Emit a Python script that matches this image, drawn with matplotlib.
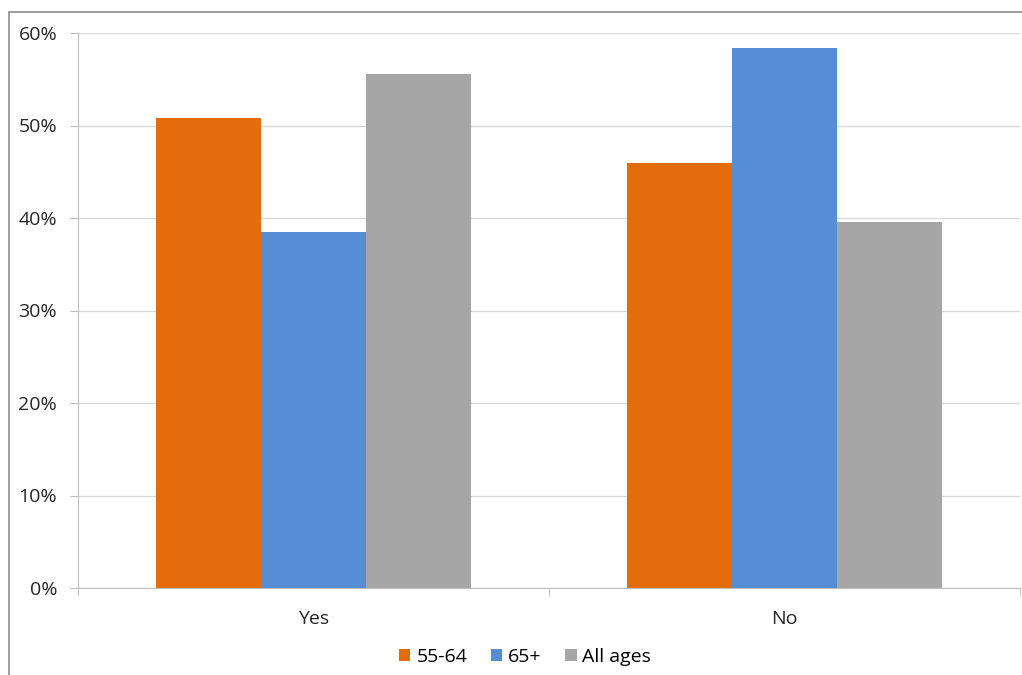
import numpy as np
import matplotlib.pyplot as plt
from matplotlib.patches import Rectangle
from matplotlib.ticker import PercentFormatter

plt.rcParams['font.family'] = ['Open Sans', 'DejaVu Sans']

categories = ['Yes', 'No']
series_names = ['55-64', '65+', 'All ages']
age_55_64 = [50.8, 45.9]
age_65_plus = [38.5, 58.4]
all_ages = [55.6, 39.6]
colors = ['#E46C0A', '#558ED5', '#A6A6A6']

W, H = 1022, 675
fig = plt.figure(figsize=(W / 100, H / 100), dpi=100)
ax = fig.add_axes([78 / W, 1 - 588 / H, (1020 - 78) / W, (588 - 33) / H])

# outer chart frame (only the top and left edges are visible in the crop)
fig.patches.append(Rectangle((9 / W, -0.1), 1.2, 1 - 12 / H + 0.1,
                             transform=fig.transFigure, fill=False,
                             edgecolor='#8c8c8c', linewidth=1.2))

x = np.arange(len(categories))
width = 0.223
for i, (name, vals) in enumerate(zip(series_names,
                                     [age_55_64, age_65_plus, all_ages])):
    ax.bar(x + (i - 1) * width, vals, width, color=colors[i], label=name,
           zorder=2)

ax.set_xlim(-0.5, 1.5)
ax.set_ylim(0, 60)
ax.set_yticks(np.arange(0, 61, 10))
ax.yaxis.set_major_formatter(PercentFormatter(decimals=0))
ax.set_xticks(x)
ax.set_xticklabels(categories)
ax.set_xticks([-0.5, 0.5, 1.5], minor=True)
ax.tick_params(axis='x', which='major', length=0, pad=16, labelsize=14,
               colors='#262626')
ax.tick_params(axis='x', which='minor', length=6, color='#bfbfbf')
ax.tick_params(axis='y', length=6, color='#bfbfbf', labelsize=14,
               labelcolor='#262626', pad=9)

ax.grid(axis='y', color='#d9d9d9', linewidth=1, zorder=0)
for side in ['top', 'right']:
    ax.spines[side].set_visible(False)
for side in ['left', 'bottom']:
    ax.spines[side].set_color('#bfbfbf')

ax.legend(loc='center', bbox_to_anchor=(525 / W, 1 - 657 / H),
          bbox_transform=fig.transFigure, ncol=3, frameon=False,
          fontsize=14, handlelength=0.6, handleheight=0.6,
          handletextpad=0.3, columnspacing=1.2)

fig.savefig('out.png', dpi=100)
